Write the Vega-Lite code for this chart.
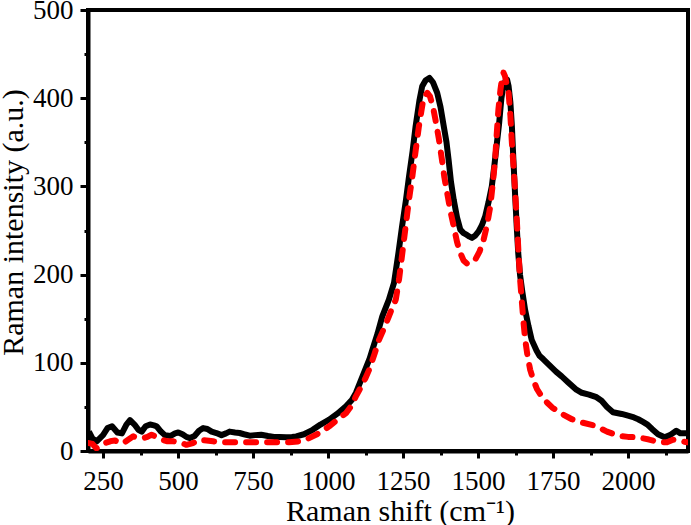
{
  "$schema": "https://vega.github.io/schema/vega-lite/v6.json",
  "width": 600,
  "height": 441,
  "autosize": "none",
  "padding": {"left": 88, "top": 10, "right": 3, "bottom": 74},
  "background": "white",
  "config": {
    "view": {"stroke": "black", "strokeWidth": 4},
    "font": "Liberation Serif",
    "axis": {
      "grid": false,
      "domainColor": "black",
      "domainWidth": 4,
      "tickColor": "black",
      "tickWidth": 3,
      "labelFont": "Liberation Serif",
      "labelFontSize": 27,
      "labelColor": "black",
      "titleFont": "Liberation Serif",
      "titleFontSize": 30,
      "titleFontWeight": "normal",
      "titleColor": "black"
    }
  },
  "datasets": {
    "black": [
      {"x":203,"y":22},{"x":215,"y":14},{"x":229,"y":11},{"x":250,"y":18},{"x":265,"y":26},{"x":280,"y":28},{"x":298,"y":21},{"x":313,"y":20},{"x":328,"y":30},{"x":340,"y":35},{"x":355,"y":30},{"x":368,"y":24},{"x":379,"y":22},{"x":392,"y":28},{"x":407,"y":30},{"x":420,"y":29},{"x":429,"y":28},{"x":443,"y":22},{"x":456,"y":18},{"x":475,"y":17},{"x":490,"y":20},{"x":501,"y":21},{"x":515,"y":19},{"x":528,"y":16},{"x":540,"y":14.7},{"x":555,"y":17},{"x":570,"y":23},{"x":584,"y":26},{"x":598,"y":25},{"x":612,"y":22},{"x":628,"y":20.4},{"x":645,"y":18},{"x":660,"y":20},{"x":672,"y":22},{"x":690,"y":21},{"x":705,"y":20.4},{"x":720,"y":19},{"x":739,"y":17.4},{"x":757,"y":18},{"x":777,"y":18.5},{"x":800,"y":17},{"x":820,"y":16},{"x":838,"y":15.9},{"x":860,"y":15.5},{"x":880,"y":16},{"x":894,"y":16.6},{"x":920,"y":19},{"x":949,"y":24},{"x":975,"y":30},{"x":1004,"y":35.5},{"x":1030,"y":42},{"x":1060,"y":50.6},{"x":1080,"y":58},{"x":1093,"y":65.8},{"x":1115,"y":84.6},{"x":1139,"y":105},{"x":1148,"y":115},{"x":1165,"y":133},{"x":1181,"y":152.7},{"x":1203,"y":171.6},{"x":1220,"y":190.6},{"x":1235,"y":225},{"x":1247,"y":255},{"x":1260,"y":285},{"x":1270,"y":311},{"x":1282,"y":340},{"x":1292,"y":368},{"x":1305,"y":398},{"x":1314,"y":413.6},{"x":1325,"y":420},{"x":1338,"y":423},{"x":1350,"y":418},{"x":1364,"y":406},{"x":1375,"y":390},{"x":1386,"y":368},{"x":1395,"y":350},{"x":1402,"y":330},{"x":1410,"y":305},{"x":1419,"y":285},{"x":1430,"y":265},{"x":1441,"y":251},{"x":1452,"y":247},{"x":1463,"y":245},{"x":1472,"y":243},{"x":1480,"y":241.6},{"x":1490,"y":244},{"x":1502,"y":249},{"x":1513,"y":256},{"x":1524,"y":266},{"x":1535,"y":282},{"x":1546,"y":300},{"x":1555,"y":325},{"x":1563,"y":349},{"x":1570,"y":370},{"x":1578,"y":400},{"x":1585,"y":415},{"x":1591,"y":419},{"x":1597,"y":421},{"x":1602,"y":413.6},{"x":1608,"y":395},{"x":1613,"y":368},{"x":1618,"y":330},{"x":1623,"y":295},{"x":1629,"y":255},{"x":1634,"y":225},{"x":1640,"y":200},{"x":1648,"y":180},{"x":1657,"y":160},{"x":1668,"y":142},{"x":1679,"y":126},{"x":1695,"y":114},{"x":1705,"y":108},{"x":1718,"y":104},{"x":1736,"y":98},{"x":1760,"y":90},{"x":1779,"y":84.6},{"x":1800,"y":78},{"x":1828,"y":69.5},{"x":1846,"y":66},{"x":1870,"y":64},{"x":1895,"y":61},{"x":1912,"y":57},{"x":1930,"y":50},{"x":1950,"y":44},{"x":1979,"y":42},{"x":2000,"y":40},{"x":2020,"y":38},{"x":2034,"y":36},{"x":2050,"y":33},{"x":2065,"y":30},{"x":2080,"y":25},{"x":2100,"y":19},{"x":2122,"y":15.5},{"x":2140,"y":18},{"x":2161,"y":23},{"x":2175,"y":20},{"x":2197,"y":20}
    ],
    "red": [
      {"x":203,"y":9},{"x":215,"y":8},{"x":228,"y":3},{"x":241,"y":5},{"x":257,"y":9},{"x":274,"y":11},{"x":290,"y":12},{"x":305,"y":9},{"x":318,"y":9},{"x":335,"y":13},{"x":351,"y":16.6},{"x":368,"y":15},{"x":385,"y":14.7},{"x":398,"y":16},{"x":412,"y":18.5},{"x":428,"y":16},{"x":446,"y":12.8},{"x":465,"y":11},{"x":484,"y":11},{"x":505,"y":10},{"x":528,"y":7},{"x":550,"y":9},{"x":573,"y":12.8},{"x":595,"y":12},{"x":617,"y":11},{"x":640,"y":10},{"x":672,"y":9.8},{"x":700,"y":10},{"x":725,"y":10},{"x":750,"y":9.8},{"x":780,"y":10},{"x":810,"y":10},{"x":838,"y":9.8},{"x":870,"y":10},{"x":905,"y":11},{"x":928,"y":13},{"x":949,"y":16.6},{"x":975,"y":21},{"x":1004,"y":28},{"x":1030,"y":35},{"x":1060,"y":43},{"x":1080,"y":52},{"x":1093,"y":62},{"x":1109,"y":72},{"x":1124,"y":82},{"x":1137,"y":92},{"x":1155,"y":110},{"x":1170,"y":126},{"x":1188,"y":140},{"x":1203,"y":152.7},{"x":1215,"y":163},{"x":1226,"y":171.6},{"x":1237,"y":195},{"x":1248,"y":225},{"x":1259,"y":255},{"x":1270,"y":285},{"x":1281,"y":311},{"x":1292,"y":340},{"x":1303,"y":368},{"x":1315,"y":393},{"x":1324,"y":403},{"x":1331,"y":406},{"x":1340,"y":402},{"x":1350,"y":390},{"x":1358,"y":376},{"x":1369,"y":355},{"x":1380,"y":330},{"x":1388,"y":310},{"x":1397,"y":293},{"x":1408,"y":272},{"x":1419,"y":255},{"x":1430,"y":237},{"x":1441,"y":224.6},{"x":1452,"y":216},{"x":1463,"y":212.5},{"x":1477,"y":213},{"x":1491,"y":217},{"x":1505,"y":226},{"x":1519,"y":240},{"x":1530,"y":256},{"x":1541,"y":277.5},{"x":1549,"y":302},{"x":1557,"y":330},{"x":1562,"y":357},{"x":1568,"y":387},{"x":1575,"y":410},{"x":1580,"y":422},{"x":1585,"y":429},{"x":1590,"y":425},{"x":1596,"y":415},{"x":1602,"y":406},{"x":1608,"y":380},{"x":1613,"y":349},{"x":1619,"y":320},{"x":1624,"y":293},{"x":1630,"y":258},{"x":1635,"y":225},{"x":1640,"y":196},{"x":1646,"y":170},{"x":1652,"y":145},{"x":1657,"y":127},{"x":1665,"y":108},{"x":1674,"y":92},{"x":1685,"y":80},{"x":1697,"y":70},{"x":1712,"y":62},{"x":1730,"y":55},{"x":1747,"y":49.4},{"x":1780,"y":42},{"x":1813,"y":36},{"x":1850,"y":32},{"x":1890,"y":28.6},{"x":1930,"y":22},{"x":1968,"y":17.3},{"x":2000,"y":16},{"x":2034,"y":15.5},{"x":2070,"y":13},{"x":2106,"y":9.8},{"x":2130,"y":10},{"x":2150,"y":12.8},{"x":2175,"y":11},{"x":2197,"y":10}
    ]
  },
  "resolve": {"axis": {"x": "independent", "y": "independent"}},
  "layer": [
    {
      "data": {"name": "black"},
      "mark": {"type": "line", "color": "black", "strokeWidth": 6, "strokeJoin": "round", "clip": true},
      "encoding": {
        "x": {"field": "x", "type": "quantitative", "scale": {"domain": [200, 2200], "nice": false, "zero": false},
          "axis": {"orient": "bottom", "values": [250, 500, 750, 1000, 1250, 1500, 1750, 2000], "format": "d", "tickSize": 7, "labelPadding": 10, "title": "Raman shift (cm⁻¹)", "titlePadding": 2, "titleX": 312, "labelFlush": false}},
        "y": {"field": "y", "type": "quantitative", "scale": {"domain": [0, 500], "nice": false},
          "axis": {"orient": "left", "values": [0, 100, 200, 300, 400, 500], "format": "d", "tickSize": 8, "labelPadding": 7, "title": "Raman intensity (a.u.)", "titlePadding": 4, "titleY": 212, "labelFlush": false}}
      }
    },
    {
      "data": {"name": "red"},
      "mark": {"type": "line", "color": "#ff0000", "strokeWidth": 6, "strokeDash": [10, 11], "strokeCap": "round", "strokeJoin": "round", "clip": true},
      "encoding": {
        "x": {"field": "x", "type": "quantitative", "scale": {"domain": [200, 2200], "nice": false, "zero": false},
          "axis": {"orient": "bottom", "values": [375, 625, 875, 1125, 1375, 1625, 1875, 2125], "tickSize": 4, "labels": false, "domain": false, "title": null}},
        "y": {"field": "y", "type": "quantitative", "scale": {"domain": [0, 500], "nice": false},
          "axis": {"orient": "left", "values": [50, 150, 250, 350, 450], "tickSize": 4, "labels": false, "domain": false, "title": null}}
      }
    }
  ]
}
